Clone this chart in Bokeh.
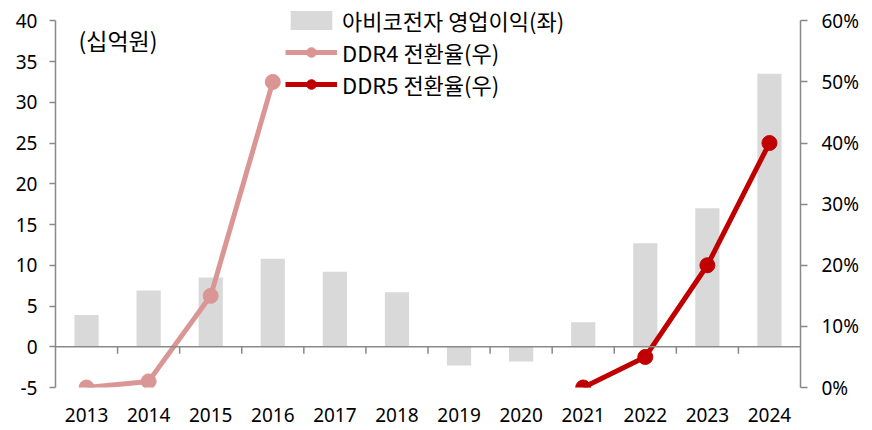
from bokeh.plotting import figure
from bokeh.models import (Range1d, LinearAxis, FixedTicker, Span, Legend, LegendItem, Label)
from bokeh.embed import file_html
from bokeh.resources import INLINE

# ---- data ----
years = ["2013", "2014", "2015", "2016", "2017", "2018", "2019", "2020", "2021", "2022", "2023", "2024"]
op_profit = [3.9, 6.9, 8.5, 10.8, 9.2, 6.7, -2.3, -1.8, 3.0, 12.7, 17.0, 33.5]  # 십억원
ddr4_years = ["2013", "2014", "2015", "2016"]
ddr4_rate = [0.0, 0.01, 0.15, 0.50]
ddr5_years = ["2021", "2022", "2023", "2024"]
ddr5_rate = [0.0, 0.05, 0.20, 0.40]
left_ticks = [-5, 0, 5, 10, 15, 20, 25, 30, 35, 40]
right_ticks = [0, 0.1, 0.2, 0.3, 0.4, 0.5, 0.6]

NUM_FONT = "Noto Sans"
KR_FONT = "Noto Sans CJK KR"
AXIS_GRAY = "#898989"
BAR_COLOR = "#D9D9D9"
DDR4_COLOR = "#DA9694"
DDR5_COLOR = "#C00000"

idx = {y: i for i, y in enumerate(years)}
xc = [i + 0.5 for i in range(len(years))]

# left axis spans -5..40 ; headroom above 40 leaves space for the legend
L_MIN, L_MAX = left_ticks[0], left_ticks[-1]
R_MIN, R_MAX = right_ticks[0], right_ticks[-1]
HEAD = 2.0
top_left = L_MAX + HEAD
top_right = R_MIN + (top_left - L_MIN) / (L_MAX - L_MIN) * (R_MAX - R_MIN)

p = figure(width=864, height=428, output_backend="svg", toolbar_location=None,
           x_range=Range1d(0, len(years)), y_range=Range1d(L_MIN, top_left),
           min_border_left=55, min_border_right=64, min_border_top=4, min_border_bottom=41)
p.outline_line_color = None
p.xgrid.visible = False
p.ygrid.visible = False
p.background_fill_color = "white"
p.border_fill_color = "white"

p.extra_y_ranges = {"pct": Range1d(R_MIN, top_right)}

# bars
bars = p.vbar(x=xc, top=op_profit, width=0.39, color=BAR_COLOR, line_color=None)

# baseline at zero and category separators
p.add_layout(Span(location=0, dimension="width", line_color=AXIS_GRAY, line_width=1.5))
sep_x = list(range(1, len(years)))
p.segment(x0=sep_x, y0=[0] * len(sep_x), x1=sep_x, y1=[-0.85] * len(sep_x),
          line_color=AXIS_GRAY, line_width=1.5)

# lines
d4x = [idx[y] + 0.5 for y in ddr4_years]
d5x = [idx[y] + 0.5 for y in ddr5_years]
l4 = p.line(d4x, ddr4_rate, y_range_name="pct", line_color=DDR4_COLOR, line_width=5)
s4 = p.scatter(d4x, ddr4_rate, y_range_name="pct", size=15, color=DDR4_COLOR)
l5 = p.line(d5x, ddr5_rate, y_range_name="pct", line_color=DDR5_COLOR, line_width=5)
s5 = p.scatter(d5x, ddr5_rate, y_range_name="pct", size=15, color=DDR5_COLOR)

# bottom axis (labels only)
xa = p.xaxis[0]
xa.ticker = FixedTicker(ticks=xc)
xa.major_label_overrides = {x: y for x, y in zip(xc, years)}
xa.axis_line_color = None
xa.major_tick_line_color = None
xa.minor_tick_line_color = None
xa.major_label_standoff = 14
xa.major_label_text_font = NUM_FONT
xa.major_label_text_font_size = "19px"
xa.major_label_text_color = "#000000"

# left axis
ya = p.yaxis[0]
ya.ticker = FixedTicker(ticks=left_ticks)
ya.major_label_overrides = {t: str(t) for t in left_ticks}
ya.bounds = (L_MIN, L_MAX)
ya.axis_line_color = AXIS_GRAY
ya.axis_line_width = 1.5
ya.major_tick_line_color = AXIS_GRAY
ya.major_tick_line_width = 1.5
ya.major_tick_out = 6
ya.major_tick_in = 0
ya.minor_tick_line_color = None
ya.major_label_standoff = 12
ya.major_label_text_font = NUM_FONT
ya.major_label_text_font_size = "19px"
ya.major_label_text_color = "#000000"

# right axis
ra = LinearAxis(y_range_name="pct", ticker=FixedTicker(ticks=right_ticks),
                major_label_overrides={t: f"{int(round(t * 100))}%" for t in right_ticks})
ra.bounds = (R_MIN, R_MAX)
ra.axis_line_color = AXIS_GRAY
ra.axis_line_width = 1.5
ra.major_tick_line_color = AXIS_GRAY
ra.major_tick_line_width = 1.5
ra.major_tick_out = 7
ra.major_tick_in = 0
ra.minor_tick_line_color = None
ra.major_label_standoff = 14
ra.major_label_text_font = NUM_FONT
ra.major_label_text_font_size = "19px"
ra.major_label_text_color = "#000000"
p.add_layout(ra, "right")

# unit label
p.add_layout(Label(x=0.37, y=37.7, text="(십억원)", text_font=KR_FONT, text_font_size="23px",
                   text_baseline="middle", text_color="#000000"))

# legend
legend = Legend(items=[
    LegendItem(label="아비코전자 영업이익(좌)", renderers=[bars]),
    LegendItem(label="DDR4 전환율(우)", renderers=[l4, s4]),
    LegendItem(label="DDR5 전환율(우)", renderers=[l5, s5]),
], location=(230, 287))
legend.border_line_color = None
legend.background_fill_alpha = 0
legend.label_text_font = KR_FONT
legend.label_text_font_size = "22px"
legend.label_text_color = "#000000"
legend.glyph_width = 52
legend.glyph_height = 24
legend.spacing = 0
legend.padding = 0
legend.margin = 0
legend.label_standoff = 5
legend.label_height = 24
p.add_layout(legend, "center")

open("out.html", "w").write(file_html(p, INLINE))
